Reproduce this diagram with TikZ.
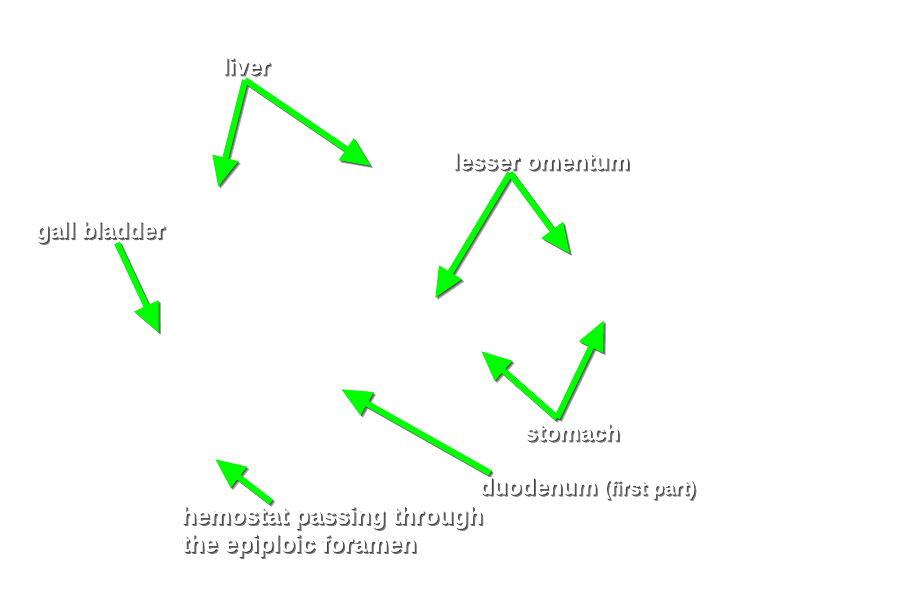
\documentclass[tikz,border=0pt]{standalone}
\usepackage{fontspec}
\setmainfont{Liberation Sans}[BoldFont=* Bold, BoldFeatures={FakeBold=1.5}]
\usetikzlibrary{arrows.meta}
\definecolor{arrowgreen}{RGB}{0,255,0}
\tikzset{
    lbl/.style={text=white, inner sep=0pt, align=left,
        font=\bfseries\fontsize{23}{28}\selectfont},
    lblshade/.style={lbl, text=black, opacity=.45},
    ptr/.style={-{Triangle[length=30pt,width=25pt]}, line width=6pt, draw=arrowgreen},
    ptrshade/.style={ptr, draw=black, opacity=.3},
}
\begin{document}
\begin{tikzpicture}[x=1pt, y=-1pt]
\useasboundingbox (0,0) rectangle (900,598);

% arrow tips
\coordinate (livertipA) at (218,187);
\coordinate (livertipB) at (371,166);
\coordinate (galltip) at (159,333);
\coordinate (omtipA) at (435,298);
\coordinate (omtipB) at (570,254);
\coordinate (stomtipA) at (481,351);
\coordinate (stomtipB) at (604,320);
\coordinate (duotip) at (341,389);
\coordinate (hemotip) at (215,459);

% arrow roots
\coordinate (liverroot) at (245,80);
\coordinate (gallroot) at (117,243);
\coordinate (omroot) at (510,173);
\coordinate (stomroot) at (557,418);
\coordinate (duoroot) at (490,473);
\coordinate (hemoroot) at (271,502);

% shadows of the arrows
\foreach \s in {1,2,3}
{
\foreach \a/\b in {liverroot/livertipA, liverroot/livertipB, gallroot/galltip,
    omroot/omtipA, omroot/omtipB, stomroot/stomtipA, stomroot/stomtipB,
    duoroot/duotip, hemoroot/hemotip}
{
    \draw[ptrshade, transform canvas={shift={(\s*0.8pt,-\s*0.8pt)}}] (\a) -- (\b);
}
}
\foreach \a/\b in {liverroot/livertipA, liverroot/livertipB, gallroot/galltip,
    omroot/omtipA, omroot/omtipB, stomroot/stomtipA, stomroot/stomtipB,
    duoroot/duotip, hemoroot/hemotip}
{
    \draw[ptr] (\a) -- (\b);
}

% labels, shadow first
\foreach \dx/\st in {1/lblshade, 2/lblshade, 0/lbl}
{
    \begin{scope}[shift={(\dx,\dx)}]
    \node[\st] (liver) at (246,66) {liver};
    \node[\st] (gall) at (100,232) {gall bladder};
    \node[\st] (omentum) at (541,161) {lesser omentum};
    \node[\st] (stomach) at (572,432) {stomach};
    \node[\st, anchor=west] (duodenum) at (479,488)
        {duodenum {\fontsize{19.5}{22}\selectfont(first part)}};
    \node[\st, anchor=north west, font=\bfseries\fontsize{24}{28}\selectfont] (hemostat) at (181,506)
        {hemostat passing through\\the epiploic foramen};
    \end{scope}
}

\end{tikzpicture}
\end{document}
